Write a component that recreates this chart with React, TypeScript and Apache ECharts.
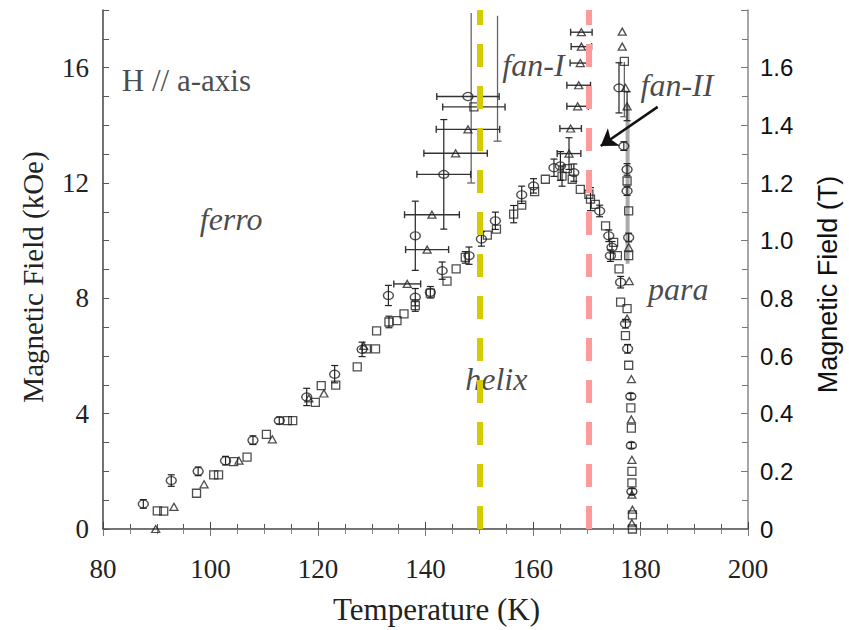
import React, { useEffect, useRef } from "react";
import * as echarts from "echarts";

// Temperature (K) range and tick labels
const xTickLabels = [80, 100, 120, 140, 160, 180, 200];
const leftTickLabels = [0, 4, 8, 12, 16];
const rightTickLabels = [0, 0.2, 0.4, 0.6, 0.8, 1.0, 1.2, 1.4, 1.6];

// [T (K), H (kOe), dT, dH]
const circles: number[][] = [
  [87.5, 0.87, 0, 0.15], [92.7, 1.68, 0, 0.2], [97.7, 2.0, 0, 0.15], [102.8, 2.37, 0, 0.15],
  [107.9, 3.08, 0, 0.15], [112.8, 3.76, 0, 0.12], [117.9, 4.58, 0, 0.3], [123.1, 5.37, 0, 0.3],
  [128.2, 6.23, 0, 0.25], [133.1, 8.1, 0, 0.35], [138.1, 8.04, 0, 0.3], [140.9, 8.21, 0, 0.2],
  [143.1, 8.96, 0, 0.3], [148.1, 9.48, 0, 0.3], [150.4, 10.06, 0, 0.25], [153.0, 10.69, 0, 0.3],
  [157.9, 11.59, 0, 0.3], [160.1, 11.9, 0, 0.25], [163.9, 12.53, 0, 0.3], [165.1, 12.59, 0, 0.5],
  [167.6, 12.36, 0, 0.3], [172.4, 11.03, 0, 0.2], [174.1, 10.17, 0, 0.2], [174.7, 9.77, 0, 0.2],
  [174.4, 9.48, 0, 0.2], [176.3, 8.56, 0, 0.2], [177.2, 7.12, 0, 0.15], [177.6, 6.25, 0, 0.15],
  [178.2, 4.6, 0, 0.1], [178.3, 2.9, 0, 0.1], [178.4, 1.3, 0, 0.1],
  [147.9, 15.0, 5.8, 0], [143.4, 12.3, 5.0, 1.9], [138.1, 10.17, 0, 1.2],
  [176.0, 15.3, 0, 0.87], [176.9, 13.28, 0, 0.15], [177.5, 12.47, 0, 0.2], [177.5, 11.72, 0, 0.15],
  [177.8, 10.11, 0, 0.15],
];

const squares: number[][] = [
  [90.1, 0.63, 0, 0], [91.3, 0.62, 0, 0], [97.4, 1.24, 0, 0], [100.6, 1.88, 0, 0], [101.5, 1.88, 0, 0],
  [104.3, 2.34, 0, 0], [106.8, 2.49, 0, 0], [110.4, 3.28, 0, 0], [114.3, 3.76, 0, 0], [115.3, 3.76, 0, 0],
  [119.5, 4.39, 0, 0], [120.6, 4.97, 0, 0], [123.3, 4.99, 0, 0], [127.3, 5.62, 0, 0], [129.0, 6.25, 0, 0],
  [130.7, 6.25, 0, 0], [130.9, 6.87, 0, 0], [133.2, 7.18, 0, 0.2], [134.7, 7.23, 0, 0], [136.0, 7.46, 0, 0],
  [138.1, 7.75, 0, 0.2], [140.9, 8.18, 0, 0], [144.0, 8.6, 0, 0], [145.7, 9.02, 0, 0], [147.4, 9.42, 0, 0.2],
  [151.5, 10.19, 0, 0], [153.2, 10.4, 0, 0], [156.4, 10.92, 0, 0.3], [157.9, 11.23, 0, 0], [160.3, 11.7, 0, 0],
  [162.3, 12.13, 0, 0], [165.4, 12.24, 0, 0.35], [166.4, 12.5, 0, 0], [167.3, 12.13, 0, 0], [168.8, 11.78, 0, 0],
  [170.4, 11.61, 0, 0], [170.7, 11.44, 0, 0.4], [171.6, 11.26, 0, 0], [173.5, 10.51, 0, 0], [175.0, 9.94, 0, 0],
  [175.7, 9.48, 0, 0], [176.0, 9.02, 0, 0], [176.3, 7.87, 0, 0], [177.5, 7.64, 0, 0], [177.2, 6.71, 0, 0],
  [177.8, 5.68, 0, 0], [178.2, 4.2, 0, 0], [178.3, 3.5, 0, 0], [178.4, 2.0, 0, 0], [178.4, 1.6, 0, 0],
  [178.5, 0.49, 0, 0], [178.5, 0.0, 0, 0],
  [149.0, 14.64, 5.8, 0],
  [177.0, 16.22, 0, 0], [177.8, 11.03, 0, 0], [177.5, 12.07, 0, 0], [177.8, 9.48, 0, 0],
];

const triangles: number[][] = [
  [89.8, 0.0, 0, 0], [93.2, 0.77, 0, 0], [98.8, 1.55, 0, 0], [105.3, 2.37, 0, 0], [111.5, 3.11, 0, 0],
  [118.3, 4.53, 0, 0], [121.1, 4.7, 0, 0], [128.5, 6.35, 0, 0], [136.6, 8.5, 2.5, 0],
  [140.3, 9.69, 4.0, 0], [141.2, 10.9, 5.1, 0], [145.6, 13.03, 5.9, 0], [147.9, 13.86, 5.9, 0],
  [169.0, 17.23, 2.0, 0], [169.0, 16.73, 1.9, 0], [168.8, 16.16, 1.9, 0], [168.5, 15.39, 2.2, 0],
  [168.3, 14.66, 2.0, 0], [167.0, 13.89, 2.0, 0], [166.7, 13.02, 2.2, 0.55],
  [176.6, 17.25, 0, 0], [176.6, 16.73, 0, 0], [177.2, 15.3, 0, 0], [177.5, 14.66, 0, 0.5],
  [177.8, 9.77, 0, 0], [177.9, 8.6, 0, 0], [177.5, 7.3, 0, 0],
  [178.3, 5.2, 0, 0], [178.3, 3.8, 0, 0], [178.4, 2.4, 0, 0], [178.4, 1.19, 0, 0],
  [178.5, 0.67, 0, 0], [178.4, 0.2, 0, 0],
];

// long vertical error bars [T, Hlow, Hhigh]
const longBars: number[][] = [
  [148.5, 12.0, 17.9], [153.4, 13.45, 17.8], [177.0, 14.3, 16.2],
];
const greyBand: number[][] = [[177.6, 9.2, 14.7]];

// phase boundary guide lines (K)
const guideLines = [
  { t: 150.0, color: "#d6cb00" },
  { t: 170.4, color: "#ff9a9a" },
];

const regionLabels = [
  { text: "H // a-axis", t: 83.5, h: 15.55, italic: false },
  { text: "ferro", t: 98.0, h: 10.75, italic: true },
  { text: "helix", t: 147.4, h: 5.2, italic: true },
  { text: "fan-I", t: 154.3, h: 16.1, italic: true },
  { text: "fan-II", t: 180.0, h: 15.4, italic: true },
  { text: "para", t: 181.4, h: 8.33, italic: true },
];
const arrowFrom = [183.2, 14.64];
const arrowTo = [172.6, 13.28];

const SERIF = "Liberation Serif";
const SANS = "Liberation Sans";

export default function App() {
  const ref = useRef<HTMLDivElement>(null);
  useEffect(() => {
    if (!ref.current) return;
    const chart = echarts.init(ref.current, undefined, { renderer: "svg" });
    const markerStyle = { color: "rgba(255,255,255,0)", borderColor: "#222", borderWidth: 1.3 };
    const errData = [...circles, ...squares, ...triangles].filter((d) => d[2] > 0 || d[3] > 0);
    const option: any = {
      animation: false,
      backgroundColor: "#fff",
      grid: { left: 103, right: 100, top: 10, bottom: 99, containLabel: false },
      xAxis: [
        {
          type: "value", min: 80, max: 200, interval: 20, position: "bottom",
          axisLine: { lineStyle: { color: "#444", width: 1.5 } },
          axisTick: { inside: true, length: 7, lineStyle: { color: "#444" } },
          minorTick: { show: true, splitNumber: 4, length: 5, lineStyle: { color: "#555" } },
          splitLine: { show: false },
          axisLabel: {
            margin: 26, fontFamily: SERIF, fontSize: 27, color: "#222",
            formatter: (v: number) => (xTickLabels.includes(v) ? String(v) : ""),
          },
          name: "Temperature (K)", nameLocation: "middle", nameGap: 65,
          nameTextStyle: { fontFamily: SERIF, fontSize: 31, color: "#222", padding: [0, 0, 0, 22] },
        },
        {
          type: "value", min: 80, max: 200, interval: 20, position: "top",
          axisLine: { lineStyle: { color: "#777", width: 1.2 } },
          axisTick: { inside: true, length: 7, lineStyle: { color: "#777" } },
          minorTick: { show: true, splitNumber: 4, length: 5, lineStyle: { color: "#888" } },
          splitLine: { show: false }, axisLabel: { show: false },
        },
      ],
      yAxis: [
        {
          type: "value", min: 0, max: 18, interval: 1, position: "left",
          axisLine: { show: true, lineStyle: { color: "#444", width: 1.5 } },
          axisTick: { inside: true, length: 6, lineStyle: { color: "#555" } },
          splitLine: { show: false },
          axisLabel: {
            margin: 14, fontFamily: SERIF, fontSize: 27, color: "#222",
            formatter: (v: number) => (leftTickLabels.includes(v) ? String(v) : ""),
          },
          name: "Magnetic Field (kOe)", nameLocation: "middle", nameGap: 56, nameRotate: 90,
          nameTextStyle: { fontFamily: SERIF, fontSize: 29, color: "#222", padding: [0, 15, 0, 0] },
        },
        {
          type: "value", min: 0, max: 1.8, interval: 0.2, position: "right",
          axisLine: { show: true, lineStyle: { color: "#888", width: 1.5 } },
          axisTick: { inside: true, length: 7, lineStyle: { color: "#777" } },
          minorTick: { show: true, splitNumber: 2, length: 6, lineStyle: { color: "#777" } },
          splitLine: { show: false },
          axisLabel: {
            margin: 12, fontFamily: SANS, fontSize: 24, color: "#111",
            formatter: (v: number) => {
              const r = rightTickLabels.find((x) => Math.abs(x - v) < 1e-6);
              if (r === undefined) return "";
              return r === 0 ? "0" : r.toFixed(1);
            },
          },
          name: "Magnetic Field (T)", nameLocation: "middle", nameGap: 66, nameRotate: 90,
          nameTextStyle: { fontFamily: SANS, fontSize: 27, color: "#111", padding: [0, 30, 0, 0] },
        },
      ],
      series: [
        {
          type: "custom", name: "longbars", xAxisIndex: 0, yAxisIndex: 0, clip: true,
          data: longBars, encode: { x: 0, y: 1 }, z: 1,
          renderItem: (_p: any, api: any) => {
            const t = api.value(0), lo = api.value(1), hi = api.value(2);
            const a = api.coord([t, lo]), b = api.coord([t, hi]);
            return {
              type: "group", children: [
                { type: "line", shape: { x1: a[0], y1: a[1], x2: b[0], y2: b[1] }, style: { stroke: "#666", lineWidth: 1.3 } },
                { type: "line", shape: { x1: a[0] - 4, y1: a[1], x2: a[0] + 4, y2: a[1] }, style: { stroke: "#666", lineWidth: 1.3 } },
              ],
            };
          },
        },
        {
          type: "custom", name: "band", xAxisIndex: 0, yAxisIndex: 0, clip: true,
          data: greyBand, encode: { x: 0, y: 1 }, z: 1,
          renderItem: (_p: any, api: any) => {
            const t = api.value(0), lo = api.value(1), hi = api.value(2);
            const a = api.coord([t, lo]), b = api.coord([t, hi]);
            return { type: "line", shape: { x1: a[0], y1: a[1], x2: b[0], y2: b[1] }, style: { stroke: "#aaa", lineWidth: 4 } };
          },
        },
        {
          type: "custom", name: "errorbars", xAxisIndex: 0, yAxisIndex: 0, clip: true,
          data: errData, encode: { x: 0, y: 1 }, z: 2,
          renderItem: (_p: any, api: any) => {
            const t = api.value(0), h = api.value(1), dt = api.value(2), dh = api.value(3);
            const c = api.coord([t, h]);
            const st = { stroke: "#222", lineWidth: 1.2 };
            const ch: any[] = [];
            if (dh > 0) {
              const top = api.coord([t, h + dh]), bot = api.coord([t, Math.max(0, h - dh)]);
              ch.push({ type: "line", shape: { x1: c[0], y1: top[1], x2: c[0], y2: bot[1] }, style: st });
              ch.push({ type: "line", shape: { x1: c[0] - 3.5, y1: top[1], x2: c[0] + 3.5, y2: top[1] }, style: st });
              ch.push({ type: "line", shape: { x1: c[0] - 3.5, y1: bot[1], x2: c[0] + 3.5, y2: bot[1] }, style: st });
            }
            if (dt > 0) {
              const l = api.coord([t - dt, h]), r = api.coord([t + dt, h]);
              ch.push({ type: "line", shape: { x1: l[0], y1: c[1], x2: r[0], y2: c[1] }, style: { stroke: "#333", lineWidth: 1.4 } });
              ch.push({ type: "line", shape: { x1: l[0], y1: c[1] - 3.5, x2: l[0], y2: c[1] + 3.5 }, style: { stroke: "#333", lineWidth: 1.4 } });
              ch.push({ type: "line", shape: { x1: r[0], y1: c[1] - 3.5, x2: r[0], y2: c[1] + 3.5 }, style: { stroke: "#333", lineWidth: 1.4 } });
            }
            return { type: "group", children: ch };
          },
        },
        {
          type: "scatter", name: "circle", data: circles, symbol: "circle", symbolSize: [10, 8],
          itemStyle: markerStyle, z: 3,
        },
        {
          type: "scatter", name: "square", data: squares, symbol: "rect", symbolSize: 8,
          itemStyle: markerStyle, z: 3,
        },
        {
          type: "scatter", name: "triangle", data: triangles, symbol: "triangle", symbolSize: [8, 7],
          itemStyle: markerStyle, z: 3,
        },
        {
          type: "scatter", name: "labels", z: 5, symbolSize: 0, silent: true,
          data: regionLabels.map((r) => ({
            value: [r.t, r.h],
            label: {
              show: true, position: "right", distance: 0, formatter: r.text,
              fontFamily: SERIF, fontSize: r.italic ? 32 : 31, fontStyle: r.italic ? "italic" : "normal",
              color: "#1a1a1a",
            },
          })),
          markLine: {
            silent: true, symbol: ["none", "arrow"], symbolSize: 16, label: { show: false },
            lineStyle: { color: "#111", width: 2.5, type: "solid" },
            itemStyle: { color: "#111" },
            data: [[{ coord: arrowFrom }, { coord: arrowTo }]],
          },
        },
        ...guideLines.map((g) => ({
          type: "scatter", name: "guide" + g.t, data: [], z: 6,
          markLine: {
            silent: true, symbol: "none", label: { show: false }, z: 6,
            lineStyle: { color: g.color, width: 6, type: [23, 19], opacity: 1 },
            data: [[{ coord: [g.t, 0] }, { coord: [g.t, 18] }]],
          },
        })),
      ],
    };
    chart.setOption(option);
    return () => chart.dispose();
  }, []);
  return (
    <div
      ref={ref}
      style={{ position: "fixed", left: 0, top: 0, width: 849, height: 630, background: "#fff" }}
    />
  );
}
